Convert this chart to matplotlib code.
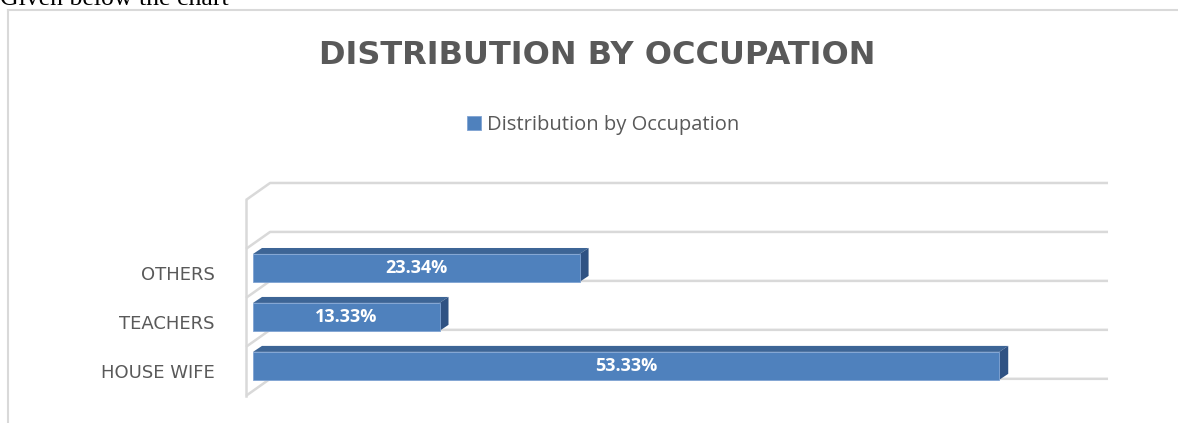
import matplotlib; matplotlib.use("Agg")
import matplotlib.pyplot as plt
from matplotlib.patches import Polygon
from matplotlib.lines import Line2D

# data
categories = ['HOUSE WIFE', 'TEACHERS', 'OTHERS']
values = [53.33, 13.33, 23.34]
labels = ['53.33%', '13.33%', '23.34%']
series_name = 'Distribution by Occupation'
title = 'DISTRIBUTION BY OCCUPATION'

W, H = 1178, 423
FRONT = '#4f81bd'
TOP = '#3d6596'
SIDE = '#2f5283'
GRID = '#d9d9d9'
TXT = '#595959'

fig = plt.figure(figsize=(W / 100, H / 100), dpi=100)
fig.patch.set_facecolor('white')

# chart frame (left + top edge visible)
fig.add_artist(Line2D([8 / W, 8 / W], [0, 1 - 10 / H], color=GRID, lw=1.5, transform=fig.transFigure))
fig.add_artist(Line2D([8 / W, 1], [1 - 10 / H, 1 - 10 / H], color=GRID, lw=1.5, transform=fig.transFigure))
fig.text(0, 1 - 5 / H, 'Given below the chart', family='Liberation Serif', fontsize=18.5,
         color='black', va='baseline', ha='left')

# plot area (pixels 240..1115 x 170..405)
ax = fig.add_axes([240 / W, 1 - 405 / H, 875 / W, 235 / H])
ax.set_xlim(-0.93, 61.6)
ax.set_ylim(-0.8, 4.0)
ax.axis('off')

# 3D floor/back-wall gridlines
gdx, gdy = 1.72, 0.347   # depth of the wall in data units
back_y = [k - 0.265 for k in range(5)]
for gb in back_y:
    ax.plot([-0.5, -0.5 + gdx, 61.1], [gb - gdy, gb, gb], color=GRID, lw=1.8, zorder=1,
            solid_capstyle='butt')
ax.plot([-0.5, -0.5], [back_y[0] - gdy, back_y[-1] - gdy], color=GRID, lw=1.8, zorder=1)

# bars with top and side faces
bh = 0.57
bdx, bdy = 0.64, 0.122
ypos = list(range(len(categories)))
for y, v in zip(ypos, values):
    t, b = y + bh / 2, y - bh / 2
    ax.add_patch(Polygon([(0, t), (v, t), (v + bdx, t + bdy), (bdx, t + bdy)],
                         closed=True, facecolor=TOP, edgecolor='none', zorder=2))
    ax.add_patch(Polygon([(v, b), (v, t), (v + bdx, t + bdy), (v + bdx, b + bdy)],
                         closed=True, facecolor=SIDE, edgecolor='none', zorder=2))
ax.barh(ypos, values, height=bh, left=0, color=FRONT, edgecolor='#7fa3d3', linewidth=0.6,
        zorder=3, label=series_name)

for y, v, lab in zip(ypos, values, labels):
    ax.text(v / 2, y, lab, ha='center', va='center', color='white', fontsize=13,
            fontweight='bold', family='Open Sans', zorder=4)

for y, c in zip(ypos, categories):
    ax.text(-2.72, y - 0.14, c, ha='right', va='center', color=TXT, fontsize=13,
            family='DejaVu Sans', clip_on=False)

fig.text(597 / W, 1 - 55 / H, title, ha='center', va='center', color=TXT, fontsize=23,
         fontweight='bold', family='DejaVu Sans')

ax.legend(loc='center', bbox_to_anchor=(603 / W, 1 - 125 / H), bbox_transform=fig.transFigure,
          frameon=False, prop={'family': 'Open Sans', 'size': 14.5}, labelcolor=TXT,
          handlelength=0.7, handleheight=0.7, handletextpad=0.3)

fig.savefig('out.png', dpi=100)
